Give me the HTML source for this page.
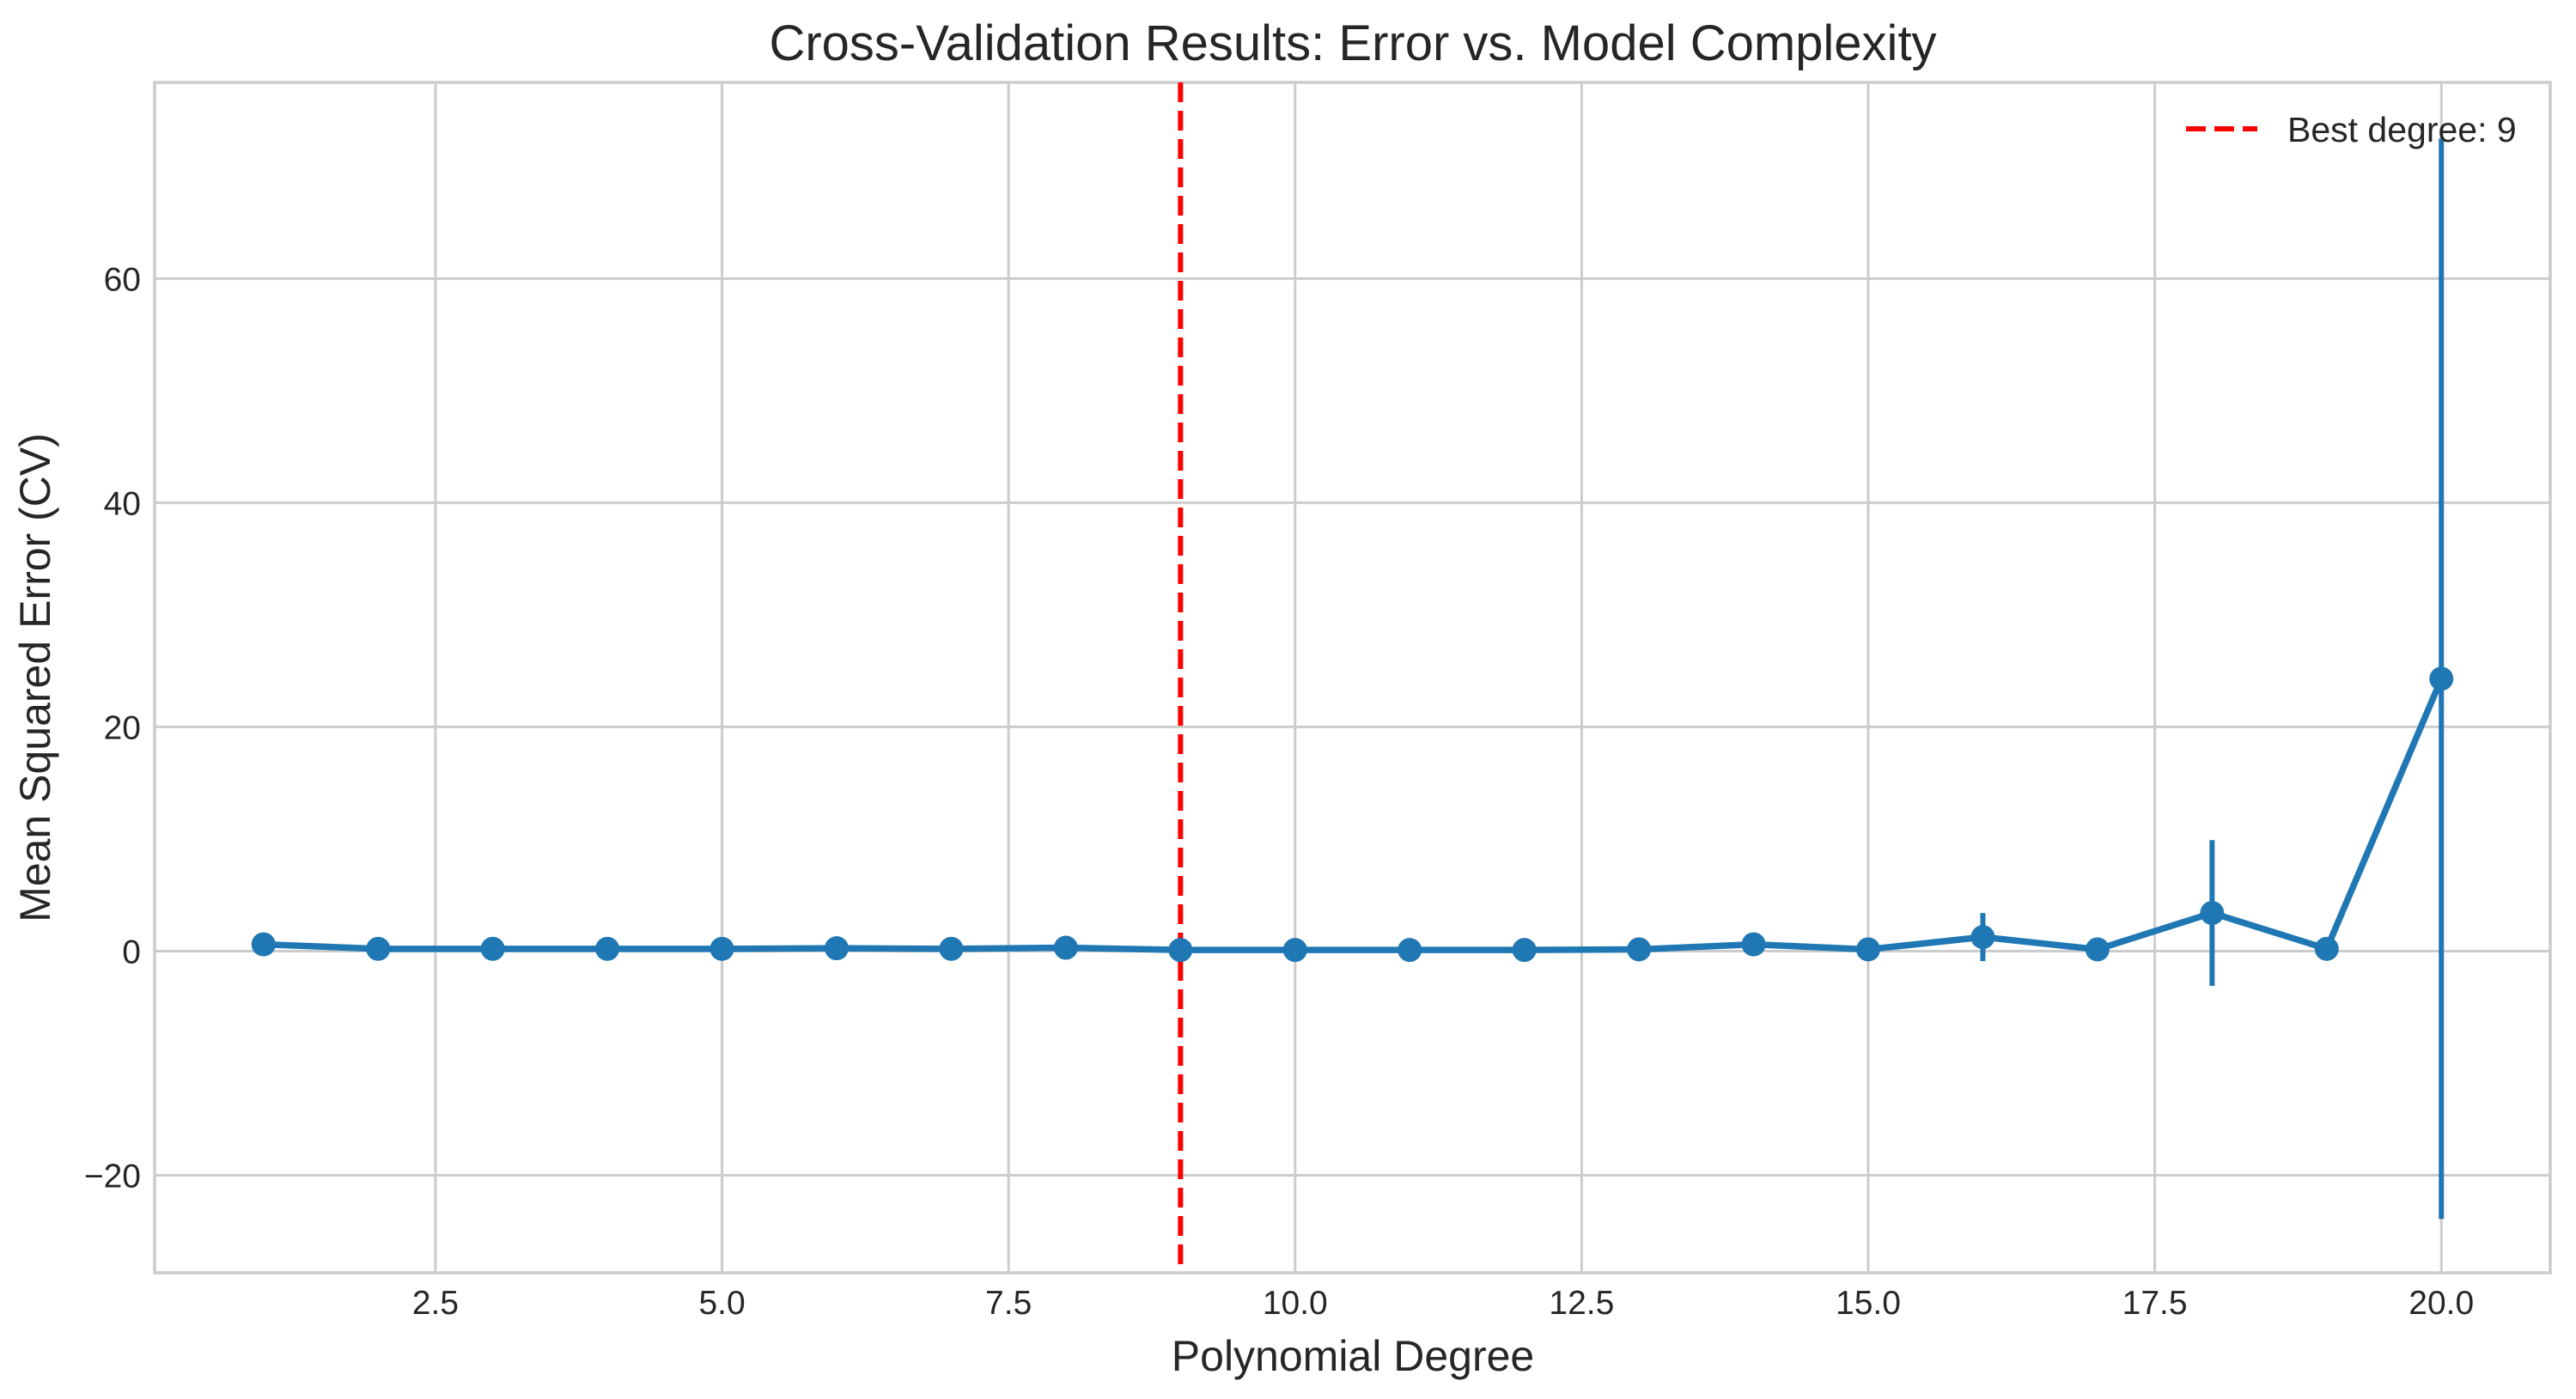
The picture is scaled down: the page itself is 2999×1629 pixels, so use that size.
<!DOCTYPE html>
<html><head><meta charset="utf-8"><style>
body{margin:0;background:#fff}
svg{display:block;font-family:"Liberation Sans",Arial,sans-serif}
</style></head><body>
<svg id="chart" width="2999" height="1629" viewBox="0 0 2999 1629" xmlns="http://www.w3.org/2000/svg">
<rect width="2999" height="1629" fill="#fff"/>
<g id="grid"></g>
<g id="axes"></g>
<g id="series"></g>
<text x="1575" y="70" text-anchor="middle" font-size="58" fill="#262626">Cross-Validation Results: Error vs. Model Complexity</text>
<text x="1575" y="1596" text-anchor="middle" font-size="50" fill="#262626">Polynomial Degree</text>
<text x="0" y="0" transform="translate(58,789) rotate(-90)" text-anchor="middle" font-size="50" fill="#262626">Mean Squared Error (CV)</text>
<g>
<line x1="2545" y1="150" x2="2628" y2="150" stroke="#ff0000" stroke-width="6" stroke-dasharray="23,10"/>
<text x="2663" y="165" font-size="41" fill="#262626">Best degree: 9</text>
</g>
</svg>
<script>
const degrees=[1,2,3,4,5,6,7,8,9,10,11,12,13,14,15,16,17,18,19,20];
const mseMean=[0.6,0.2,0.2,0.2,0.2,0.25,0.2,0.3,0.1,0.1,0.1,0.1,0.15,0.6,0.15,1.25,0.15,3.4,0.2,24.3];
const mseErr=[0.1,0.05,0.05,0.05,0.05,0.05,0.05,0.1,0.03,0.03,0.03,0.03,0.05,0.1,0.05,2.15,0.05,6.5,0.05,48.2];
const bestDegree=9;
const xTicks=[2.5,5.0,7.5,10.0,12.5,15.0,17.5,20.0];
const yTicks=[-20,0,20,40,60];
const L=180,R=2969,T=96,B=1482;
const xMin=0.05,xMax=20.95,yMin=-28.7,yMax=77.5;
const X=v=>L+(v-xMin)/(xMax-xMin)*(R-L);
const Y=v=>B-(v-yMin)/(yMax-yMin)*(B-T);
const NS="http://www.w3.org/2000/svg";
function mk(tag,attrs,parent){const e=document.createElementNS(NS,tag);for(const k in attrs)e.setAttribute(k,attrs[k]);parent.appendChild(e);return e;}
const grid=document.getElementById('grid'),axes=document.getElementById('axes'),series=document.getElementById('series');
xTicks.forEach(t=>{
 const g=mk('line',{x1:X(t),x2:X(t),y1:T,y2:B,stroke:'#cccccc','stroke-width':3},grid);
 
 
 const tx=mk('text',{x:X(t),y:1530,'text-anchor':'middle','font-size':39,fill:'#262626'},axes);
 tx.textContent=t.toFixed(1);
 
 
});
yTicks.forEach(t=>{
 const g=mk('line',{x1:L,x2:R,y1:Y(t),y2:Y(t),stroke:'#cccccc','stroke-width':3},grid);
 
 
 const tx=mk('text',{x:164,y:Y(t)+14,'text-anchor':'end','font-size':39,fill:'#262626'},axes);
 tx.textContent=t<0?'\u2212'+Math.abs(t):String(t);
 
 
});
const fr=mk('rect',{x:L,y:T,width:R-L,height:B-T,fill:'none',stroke:'#cccccc','stroke-width':3.5},axes);


const vl=mk('line',{x1:X(bestDegree),x2:X(bestDegree),y1:T,y2:B,stroke:'#ff0000','stroke-width':6,'stroke-dasharray':'23,10'},series);


degrees.forEach((d,i)=>{
 const e=mk('line',{x1:X(d),x2:X(d),y1:Y(mseMean[i]+mseErr[i]),y2:Y(mseMean[i]-mseErr[i]),stroke:'#1f77b4','stroke-width':6},series);
 
 
});
const pl=mk('polyline',{points:degrees.map((d,i)=>X(d)+','+Y(mseMean[i])).join(' '),fill:'none',stroke:'#1f77b4','stroke-width':7.5,'stroke-linejoin':'round'},series);


degrees.forEach((d,i)=>{
 const c=mk('circle',{cx:X(d),cy:Y(mseMean[i]),r:14,fill:'#1f77b4'},series);
 
 
});
</script>
</body></html>
